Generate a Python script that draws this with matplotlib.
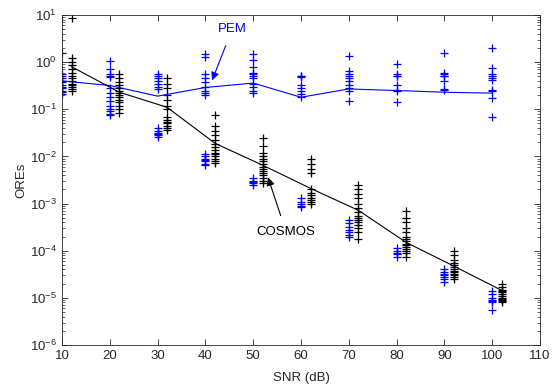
import matplotlib
matplotlib.use("Agg")
import matplotlib.pyplot as plt
from matplotlib.ticker import LogLocator, FixedLocator, NullFormatter

plt.rcParams['font.family'] = ['Liberation Sans', 'DejaVu Sans']
plt.rcParams['mathtext.default'] = 'regular'

# ---- data ----
snr = [10, 20, 30, 40, 50, 60, 70, 80, 90, 100]
cosmos_x = [12, 22, 32, 42, 52, 62, 72, 82, 92, 102]

pem_mean = [0.40, 0.32, 0.19, 0.29, 0.36, 0.18, 0.27, 0.25, 0.23, 0.22]
cosmos_mean = [0.8, 0.23, 0.11, 0.019, 0.0065, 0.0021, 7.2e-4, 1.5e-4, 4.7e-5, 1.44e-5]

pem_samples = [
    [1.6, 0.55, 0.5, 0.45, 0.4, 0.37, 0.33, 0.3, 0.28, 0.25, 0.23, 0.21],
    [1.05, 0.7, 0.55, 0.5, 0.48, 0.28, 0.22, 0.18, 0.15, 0.12, 0.1, 0.09, 0.08, 0.075],
    [0.55, 0.5, 0.45, 0.4, 0.35, 0.3, 0.27, 0.04, 0.035, 0.032, 0.03, 0.028, 0.026],
    [1.5, 1.3, 0.55, 0.45, 0.38, 0.3, 0.25, 0.22, 0.2, 0.011, 0.01, 0.009, 0.0085, 0.008, 0.007, 0.0065],
    [1.5, 1.1, 0.8, 0.6, 0.55, 0.5, 0.45, 0.35, 0.3, 0.25, 0.22, 0.0035, 0.003, 0.0028, 0.0027, 0.0025],
    [0.52, 0.5, 0.48, 0.33, 0.28, 0.24, 0.21, 0.18, 0.0013, 0.0011, 0.001, 0.0009, 0.00085],
    [1.35, 0.65, 0.55, 0.5, 0.45, 0.4, 0.33, 0.28, 0.25, 0.15, 4.5e-4, 3.8e-4, 3.2e-4, 2.8e-4, 2.5e-4, 2.2e-4, 2e-4],
    [0.9, 0.55, 0.52, 0.5, 0.33, 0.26, 0.24, 0.14, 1.15e-4, 1e-4, 9e-5, 8.5e-5, 7.5e-5],
    [1.6, 0.58, 0.55, 0.52, 0.5, 0.4, 0.27, 0.26, 4e-5, 3.5e-5, 3.2e-5, 3e-5, 2.8e-5, 2.5e-5, 2.2e-5],
    [2.0, 0.75, 0.55, 0.5, 0.45, 0.42, 0.26, 0.25, 0.17, 0.068, 1.4e-5, 1.2e-5, 1e-5, 9e-6, 8.5e-6, 8e-6, 5.5e-6],
]

cosmos_samples = [
    [8.5, 1.2, 1.0, 0.85, 0.7, 0.6, 0.5, 0.45, 0.4, 0.35, 0.32, 0.3, 0.27, 0.25],
    [0.55, 0.45, 0.38, 0.32, 0.28, 0.25, 0.22, 0.2, 0.18, 0.16, 0.14, 0.12, 0.1, 0.085],
    [0.45, 0.35, 0.28, 0.2, 0.16, 0.12, 0.1, 0.07, 0.06, 0.055, 0.05, 0.045, 0.04, 0.036],
    [0.075, 0.045, 0.035, 0.028, 0.022, 0.018, 0.016, 0.014, 0.012, 0.011, 0.01, 0.009, 0.008, 0.0072],
    [0.025, 0.017, 0.012, 0.01, 0.009, 0.008, 0.007, 0.006, 0.0055, 0.005, 0.0045, 0.004, 0.0035, 0.003, 0.0027],
    [0.009, 0.007, 0.0055, 0.0045, 0.002, 0.0017, 0.0015, 0.0013, 0.0012, 0.0011, 0.001],
    [0.0025, 0.002, 0.0016, 0.0013, 0.001, 8e-4, 6.5e-4, 5.5e-4, 5e-4, 4.5e-4, 4e-4, 3.5e-4, 3e-4, 2.5e-4, 1.8e-4],
    [7e-4, 5e-4, 4e-4, 3e-4, 2.5e-4, 2e-4, 1.8e-4, 1.6e-4, 1.4e-4, 1.3e-4, 1.2e-4, 1.1e-4, 1e-4, 9e-5, 7.5e-5],
    [1e-4, 8e-5, 6.5e-5, 5.5e-5, 5e-5, 4.5e-5, 4e-5, 3.8e-5, 3.5e-5, 3.2e-5, 3e-5, 2.8e-5, 2.5e-5],
    [2e-5, 1.7e-5, 1.5e-5, 1.4e-5, 1.3e-5, 1.2e-5, 1.1e-5, 1e-5, 9.5e-6, 9e-6, 8.5e-6, 8e-6],
]

x_ticks = [10, 20, 30, 40, 50, 60, 70, 80, 90, 100, 110]

# ---- figure ----
fig = plt.figure(figsize=(5.54, 3.88), dpi=100)
ax = fig.add_axes([62/554, 1-345/388, (540-62)/554, (345-15)/388])

for xv, vals in zip(snr, pem_samples):
    ax.plot([xv]*len(vals), vals, '+', color='#0000ff', markersize=6, markeredgewidth=0.9)
for xv, vals in zip(cosmos_x, cosmos_samples):
    ax.plot([xv]*len(vals), vals, '+', color='black', markersize=6, markeredgewidth=0.9)

ax.plot(snr, pem_mean, '-', color='#0000ff', linewidth=0.8)
ax.plot(cosmos_x, cosmos_mean, '-', color='black', linewidth=0.8)

ax.set_yscale('log')
ax.set_xlim(10, 110)
ax.set_ylim(1e-6, 1e1)
ax.xaxis.set_major_locator(FixedLocator(x_ticks))
ax.yaxis.set_major_locator(LogLocator(base=10, numticks=20))
ax.yaxis.set_minor_locator(LogLocator(base=10, subs=range(2, 10), numticks=20))
ax.yaxis.set_minor_formatter(NullFormatter())

axcol = '#262626'
for s in ax.spines.values():
    s.set_color(axcol)
    s.set_linewidth(0.6)
ax.tick_params(which='both', direction='in', top=True, right=True, colors=axcol,
               labelsize=9.5)
ax.tick_params(which='major', length=4, width=0.6)
ax.tick_params(which='minor', length=2, width=0.5)
ax.tick_params(axis='x', which='minor', bottom=False, top=False)
ax.tick_params(axis='both', labelcolor=axcol)

ax.set_xlabel('SNR (dB)', fontsize=9.5, color=axcol, labelpad=7)
ax.set_ylabel('OREs', fontsize=9.5, color=axcol, labelpad=2)

ax.annotate('PEM', xy=(41.4, 0.41), xytext=(45.6, 5.0), color='#0000ff', fontsize=9.5,
            ha='center', va='center',
            arrowprops=dict(arrowstyle='-|>', color='#0000ff', lw=0.8,
                            mutation_scale=12, shrinkA=6, shrinkB=0))
ax.annotate('COSMOS', xy=(53.1, 0.0036), xytext=(56.9, 2.46e-4), color='black', fontsize=9.5,
            ha='center', va='center',
            arrowprops=dict(arrowstyle='-|>', color='black', lw=0.8,
                            mutation_scale=12, shrinkA=6, shrinkB=0))

fig.savefig('out.png', dpi=100)
